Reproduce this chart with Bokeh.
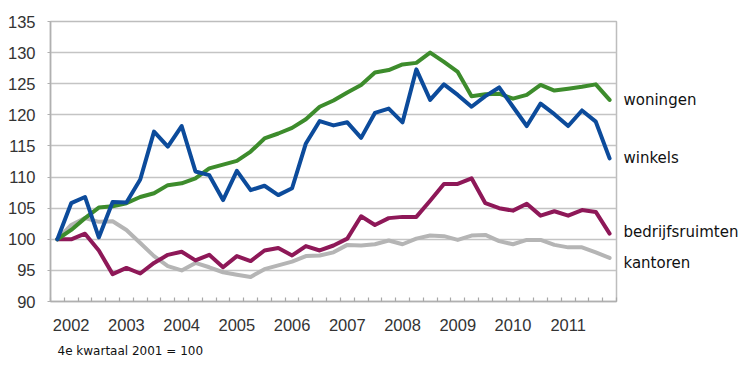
from bokeh.plotting import figure
from bokeh.models import FixedTicker, LinearAxis, Title
from bokeh.embed import file_html
from bokeh.resources import INLINE

# quarters: Q4 2001 .. Q4 2011 (41 points)
quarters = list(range(41))
year_labels = ["2002", "2003", "2004", "2005", "2006", "2007", "2008", "2009", "2010", "2011"]
year_label_pos = [1, 5, 9, 13, 17, 21, 25, 29, 33, 37]

winkels = [100, 105.8, 106.8, 100.3, 106.0, 105.9, 109.6, 117.3, 114.9, 118.2,
           110.9, 110.3, 106.3, 111.0, 107.9, 108.6, 107.1, 108.2, 115.4, 119.0,
           118.3, 118.8, 116.3, 120.3, 121.0, 118.8, 127.3, 122.4, 124.9, 123.2,
           121.3, 123.0, 124.4, 121.3, 118.2, 121.8, 120.1, 118.2, 120.7, 118.9, 113.0]
woningen = [100, 101.5, 103.4, 105.1, 105.3, 105.8, 106.8, 107.4, 108.7, 109.0,
            109.8, 111.4, 112.0, 112.6, 114.1, 116.2, 117.0, 117.9, 119.3, 121.3,
            122.3, 123.6, 124.8, 126.8, 127.2, 128.1, 128.35, 130.0, 128.5, 126.9,
            123.0, 123.3, 123.4, 122.6, 123.2, 124.8, 123.9, 124.2, 124.5, 124.9, 122.4]
bedrijfsruimten = [100, 100, 100.9, 98.2, 94.4, 95.4, 94.5, 96.2, 97.5, 98.0,
                   96.6, 97.5, 95.5, 97.3, 96.5, 98.2, 98.6, 97.4, 98.9, 98.2,
                   99.0, 100.1, 103.7, 102.3, 103.4, 103.6, 103.6, 106.2, 108.9, 108.9,
                   109.8, 105.8, 105.0, 104.6, 105.7, 103.8, 104.5, 103.8, 104.7, 104.4, 100.9]
kantoren = [100, 102.3, 103.4, 102.8, 102.9, 101.5, 99.4, 97.3, 95.7, 95.0,
            96.2, 95.5, 94.7, 94.3, 93.95, 95.2, 95.8, 96.4, 97.3, 97.4,
            97.9, 99.1, 99.0, 99.2, 99.8, 99.2, 100.1, 100.6, 100.5, 99.9,
            100.6, 100.7, 99.7, 99.2, 99.9, 99.9, 99.1, 98.7, 98.7, 97.9, 97.0]

y_ticks = [90, 95, 100, 105, 110, 115, 120, 125, 130, 135]

series_names = ["woningen", "winkels", "bedrijfsruimten", "kantoren"]
series_label_y = [122.4, 113.1, 101.1, 96.25]
footnote = "4e kwartaal 2001 = 100"

p = figure(width=748, height=365, output_backend="svg", toolbar_location=None,
           x_range=(-0.5, 40.5), y_range=(90, 135),
           min_border_left=50, min_border_right=132, min_border_top=21, min_border_bottom=64)
p.background_fill_color = "white"
p.border_fill_color = "white"
p.outline_line_color = "#BDBDBD"
p.outline_line_width = 1.5

# grid
p.xgrid.visible = False
p.ygrid.grid_line_color = "#C4C4C4"
p.ygrid.grid_line_width = 1.5

# y axis
p.yaxis.ticker = FixedTicker(ticks=y_ticks)
p.yaxis.axis_line_color = "#B0B0B0"
p.yaxis.axis_line_width = 1.5
p.yaxis.major_tick_line_color = "#B0B0B0"
p.yaxis.major_tick_in = 0
p.yaxis.major_tick_out = 3
p.yaxis.minor_tick_line_color = None
p.yaxis.major_label_standoff = 12
p.yaxis.major_label_text_font = "Liberation Sans"
p.yaxis.major_label_text_font_size = "16.5px"
p.yaxis.major_label_text_color = "#333333"

# x axis
boundaries = [q - 0.5 for q in quarters] + [40.5]
p.xaxis.ticker = FixedTicker(ticks=year_label_pos, minor_ticks=boundaries)
p.xaxis.major_label_overrides = {pos: lab for pos, lab in zip(year_label_pos, year_labels)}
p.xaxis.axis_line_color = "#B0B0B0"
p.xaxis.axis_line_width = 1.5
p.xaxis.major_tick_line_color = None
p.xaxis.minor_tick_line_color = "#A8A8A8"
p.xaxis.minor_tick_line_width = 1.2
p.xaxis.minor_tick_in = 4
p.xaxis.minor_tick_out = 0
p.xaxis.major_label_standoff = 11
p.xaxis.major_label_text_font = "Liberation Sans"
p.xaxis.major_label_text_font_size = "16.5px"
p.xaxis.major_label_text_color = "#333333"

# series names as a right-hand axis
name_axis = LinearAxis(ticker=FixedTicker(ticks=series_label_y),
                       major_label_overrides={yv: nm for yv, nm in zip(series_label_y, series_names)})
name_axis.axis_line_color = None
name_axis.major_tick_line_color = None
name_axis.minor_tick_line_color = None
name_axis.major_label_standoff = 1
name_axis.major_label_text_font = "DejaVu Sans"
name_axis.major_label_text_font_size = "15px"
name_axis.major_label_text_color = "#111111"
p.add_layout(name_axis, "right")

series = [
    (kantoren, "#B5B5B5"),
    (bedrijfsruimten, "#8E1858"),
    (woningen, "#3D8C2C"),
    (winkels, "#0C4B9B"),
]
for ys, col in series:
    p.line(quarters, ys, line_color=col, line_width=4, line_join="round", line_cap="round")

note = Title(text=footnote, align="left", offset=7, text_font="DejaVu Sans",
             text_font_size="12px", text_font_style="normal", text_color="#111111", standoff=16)
p.add_layout(note, "below")

open("out.html", "w").write(file_html(p, INLINE))
